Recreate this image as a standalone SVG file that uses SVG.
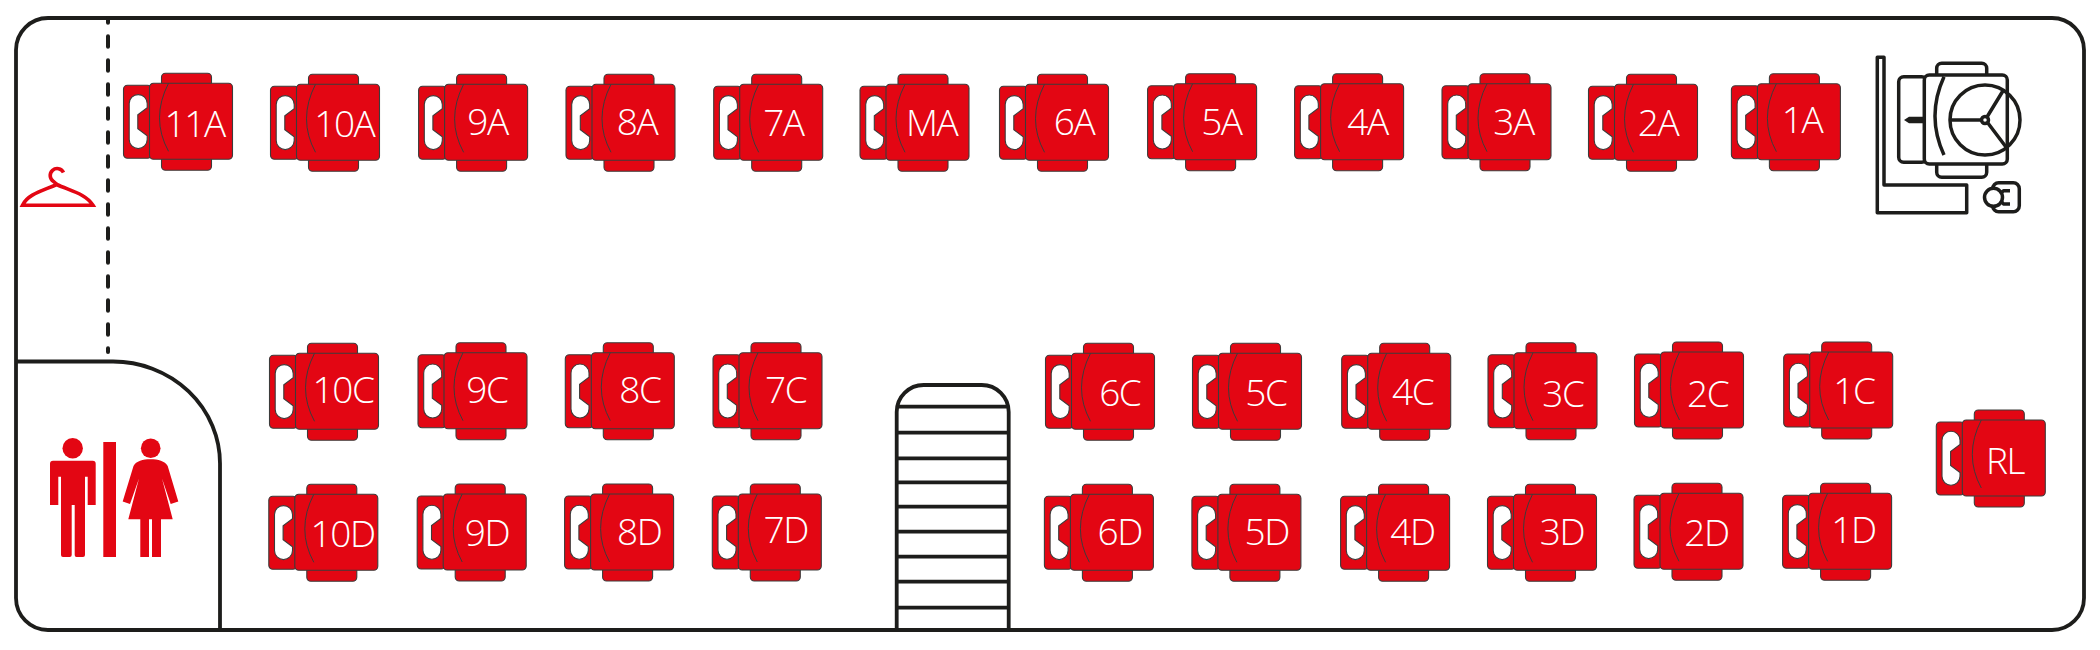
<svg xmlns="http://www.w3.org/2000/svg" width="2100" height="650" viewBox="0 0 2100 650">
<style>
.ln{fill:none;stroke:#1d1d1b;stroke-width:3.8}
.dr{fill:none;stroke:#1d1d1b;stroke-width:3.5;stroke-linejoin:round}
.rd{fill:#e30613}
.s{fill:#e30613;stroke:#3c3c3b;stroke-width:1.1}
.cut{fill:#fff;stroke:#3c3c3b;stroke-width:1.1}
.seam{fill:none;stroke:#3c3c3b;stroke-width:1}
text{font-family:"Open Sans","Liberation Sans",sans-serif;font-weight:300;font-size:37px;letter-spacing:-1.4px;fill:#fff;text-anchor:middle;transform:translateX(-2px)}
</style>
<defs>
<g id="seat">
<rect class="s" x="38" y="-10" width="50" height="97" rx="4"/>
<rect class="s" x="0" y="2" width="28" height="73" rx="4"/>
<path class="cut" d="M5.7 20.3A9 9 0 0 1 23.7 20.3V24.5L14.3 31.5V45.5L23.7 52.5V56.3A9 9 0 0 1 5.7 56.3Z"/>
<rect class="s" x="26" y="0" width="83" height="76" rx="4"/>
<path class="seam" d="M45 0Q27 35 45 68"/>
</g>
</defs>
<g id="cabin">
<rect class="ln" x="16" y="18" width="2068" height="612" rx="32"/>
<path id="divider" d="M108 18V352" fill="none" stroke="#1d1d1b" stroke-width="4" stroke-linecap="round" stroke-dasharray="10.5 13.5" stroke-dashoffset="5.7"/>
<path class="ln" d="M16 361.5H113A107 102 0 0 1 220 463.5V630"/>
</g>
<g id="stairs">
<path class="ln" d="M896.7 630V412A27 27 0 0 1 923.7 385H981.7A27 27 0 0 1 1008.7 412V630"/>
<path class="ln" d="M897 406.7H1008M897 432.7H1008M897 458.3H1008M897 482.3H1008M897 506.7H1008M897 531.7H1008M897 556.7H1008M897 581.7H1008M897 607.7H1008"/>
</g>
<g id="hanger">
<path d="M63.5 172.5A7 7 0 1 0 53.5 181.5L57 184.5" fill="none" stroke="#e30613" stroke-width="3.6"/>
<path d="M56.7 184.5C42 191 28 194 22.5 205.2H93C86 194 71 191 56.7 184.5Z" fill="none" stroke="#e30613" stroke-width="3.6"/>
</g>
<g id="toilet">
<circle class="rd" cx="72.7" cy="448.3" r="10.2"/>
<path class="rd" d="M53 460.7H92.7Q95.7 460.7 95.7 463.7V505H87.7V476.7H85V555Q85 557 83 557H76.5Q74.7 557 74.7 555V505H71.7V555Q71.7 557 69.7 557H63Q61 557 61 555V476.7H58.3V505H50V463.7Q50 460.7 53 460.7Z"/>
<rect class="rd" x="103.3" y="442" width="12.7" height="115"/>
<circle class="rd" cx="150.7" cy="448.3" r="9.8"/>
<path class="rd" d="M150.5 459.3C158 459.3 165 461 167.7 466L178.3 501.5L170.7 504L162 478.5L172.7 519.3H161V557H152V519.3H149V557H140.3V519.3H128.3L139 478.5L130 504L122.7 501.5L133.5 466C136 461 143 459.3 150.5 459.3Z"/>
</g>
<g id="driver">
<path class="dr" d="M1877.3 57.3H1884V185H1966.7V212.7H1877.3Z" stroke-linejoin="miter"/>
<rect class="dr" x="1936.7" y="63.3" width="50" height="114" rx="5"/>
<rect class="dr" x="1898.7" y="76.7" width="28" height="85.6" rx="5" style="fill:#fff"/>
<rect class="dr" x="1924.3" y="75" width="83" height="89" rx="5" style="fill:#fff"/>
<path class="dr" d="M1944 76.7Q1926 116 1944 155"/>
<path d="M1904 120L1909 116.8H1924V123.2H1909Z" fill="#1d1d1b"/>
<circle class="dr" cx="1985" cy="120" r="35"/>
<path class="dr" d="M1950 120H1981.5M1987 117L2003.5 90M1987.5 122.5L2006 147"/>
<circle class="dr" cx="1985" cy="120" r="3.5"/>
<rect class="dr" x="1992.7" y="182.7" width="26.6" height="29" rx="6"/>
<circle class="dr" cx="1993.5" cy="197.3" r="9" style="fill:#fff"/>
<path class="dr" d="M2010 190.7H2003.5L2001 193M2010 204H2003.5L2001 201"/>
</g>
<g id="connectors"/>
<g id="seat-11A"><use href="#seat" x="123.5" y="83.3"/><text x="196.7" y="136.7">11A</text></g>
<g id="seat-10A"><use href="#seat" x="270.5" y="84.3"/><text x="346.3" y="136.7">10A</text></g>
<g id="seat-9A"><use href="#seat" x="418.6" y="84.3"/><text x="489.5" y="135.3">9A</text></g>
<g id="seat-8A"><use href="#seat" x="566" y="84.3"/><text x="639" y="135.3">8A</text></g>
<g id="seat-7A"><use href="#seat" x="713.7" y="84.3"/><text x="785.4" y="136">7A</text></g>
<g id="seat-MA"><use href="#seat" x="860" y="84.3"/><text x="933.7" y="136">MA</text></g>
<g id="seat-6A"><use href="#seat" x="999.5" y="84.3"/><text x="1076" y="135.3">6A</text></g>
<g id="seat-5A"><use href="#seat" x="1147.6" y="83.7"/><text x="1223.4" y="135.3">5A</text></g>
<g id="seat-4A"><use href="#seat" x="1294.6" y="83.7"/><text x="1369.5" y="134.7">4A</text></g>
<g id="seat-3A"><use href="#seat" x="1442" y="83.7"/><text x="1515.6" y="135.3">3A</text></g>
<g id="seat-2A"><use href="#seat" x="1588.5" y="84.3"/><text x="1660" y="136">2A</text></g>
<g id="seat-1A"><use href="#seat" x="1731.4" y="83.7"/><text x="1804" y="133.3">1A</text></g>
<g id="seat-10C"><use href="#seat" x="269.5" y="353.3"/><text x="345" y="402.7">10C</text></g>
<g id="seat-9C"><use href="#seat" x="418" y="352.7"/><text x="489" y="402.7">9C</text></g>
<g id="seat-8C"><use href="#seat" x="565.3" y="352.7"/><text x="642" y="402.7">8C</text></g>
<g id="seat-7C"><use href="#seat" x="713" y="352.7"/><text x="787.7" y="402.7">7C</text></g>
<g id="seat-6C"><use href="#seat" x="1045.5" y="353.3"/><text x="1121.8" y="406">6C</text></g>
<g id="seat-5C"><use href="#seat" x="1192.5" y="353.3"/><text x="1268" y="406">5C</text></g>
<g id="seat-4C"><use href="#seat" x="1341.7" y="353.3"/><text x="1414.6" y="405">4C</text></g>
<g id="seat-3C"><use href="#seat" x="1488" y="352.7"/><text x="1565" y="407.3">3C</text></g>
<g id="seat-2C"><use href="#seat" x="1634.5" y="352"/><text x="1709.7" y="406.7">2C</text></g>
<g id="seat-1C"><use href="#seat" x="1783.7" y="352"/><text x="1856" y="404">1C</text></g>
<g id="seat-10D"><use href="#seat" x="268.8" y="494.3"/><text x="344.7" y="546.7">10D</text></g>
<g id="seat-9D"><use href="#seat" x="417.2" y="494"/><text x="489" y="546">9D</text></g>
<g id="seat-8D"><use href="#seat" x="564.6" y="494"/><text x="641.3" y="545.3">8D</text></g>
<g id="seat-7D"><use href="#seat" x="712.3" y="494"/><text x="787.7" y="543.3">7D</text></g>
<g id="seat-6D"><use href="#seat" x="1044.4" y="494.3"/><text x="1121.8" y="545.3">6D</text></g>
<g id="seat-5D"><use href="#seat" x="1191.9" y="494.3"/><text x="1268.8" y="545.3">5D</text></g>
<g id="seat-4D"><use href="#seat" x="1340.6" y="494.3"/><text x="1414.6" y="545.3">4D</text></g>
<g id="seat-3D"><use href="#seat" x="1487.5" y="494.3"/><text x="1564" y="545.3">3D</text></g>
<g id="seat-2D"><use href="#seat" x="1634" y="493.3"/><text x="1708.5" y="546">2D</text></g>
<g id="seat-1D"><use href="#seat" x="1782.6" y="493.3"/><text x="1855.5" y="543.3">1D</text></g>
<g id="seat-RL"><use href="#seat" x="1936.3" y="420"/><text x="2007" y="474">RL</text></g>
</svg>
